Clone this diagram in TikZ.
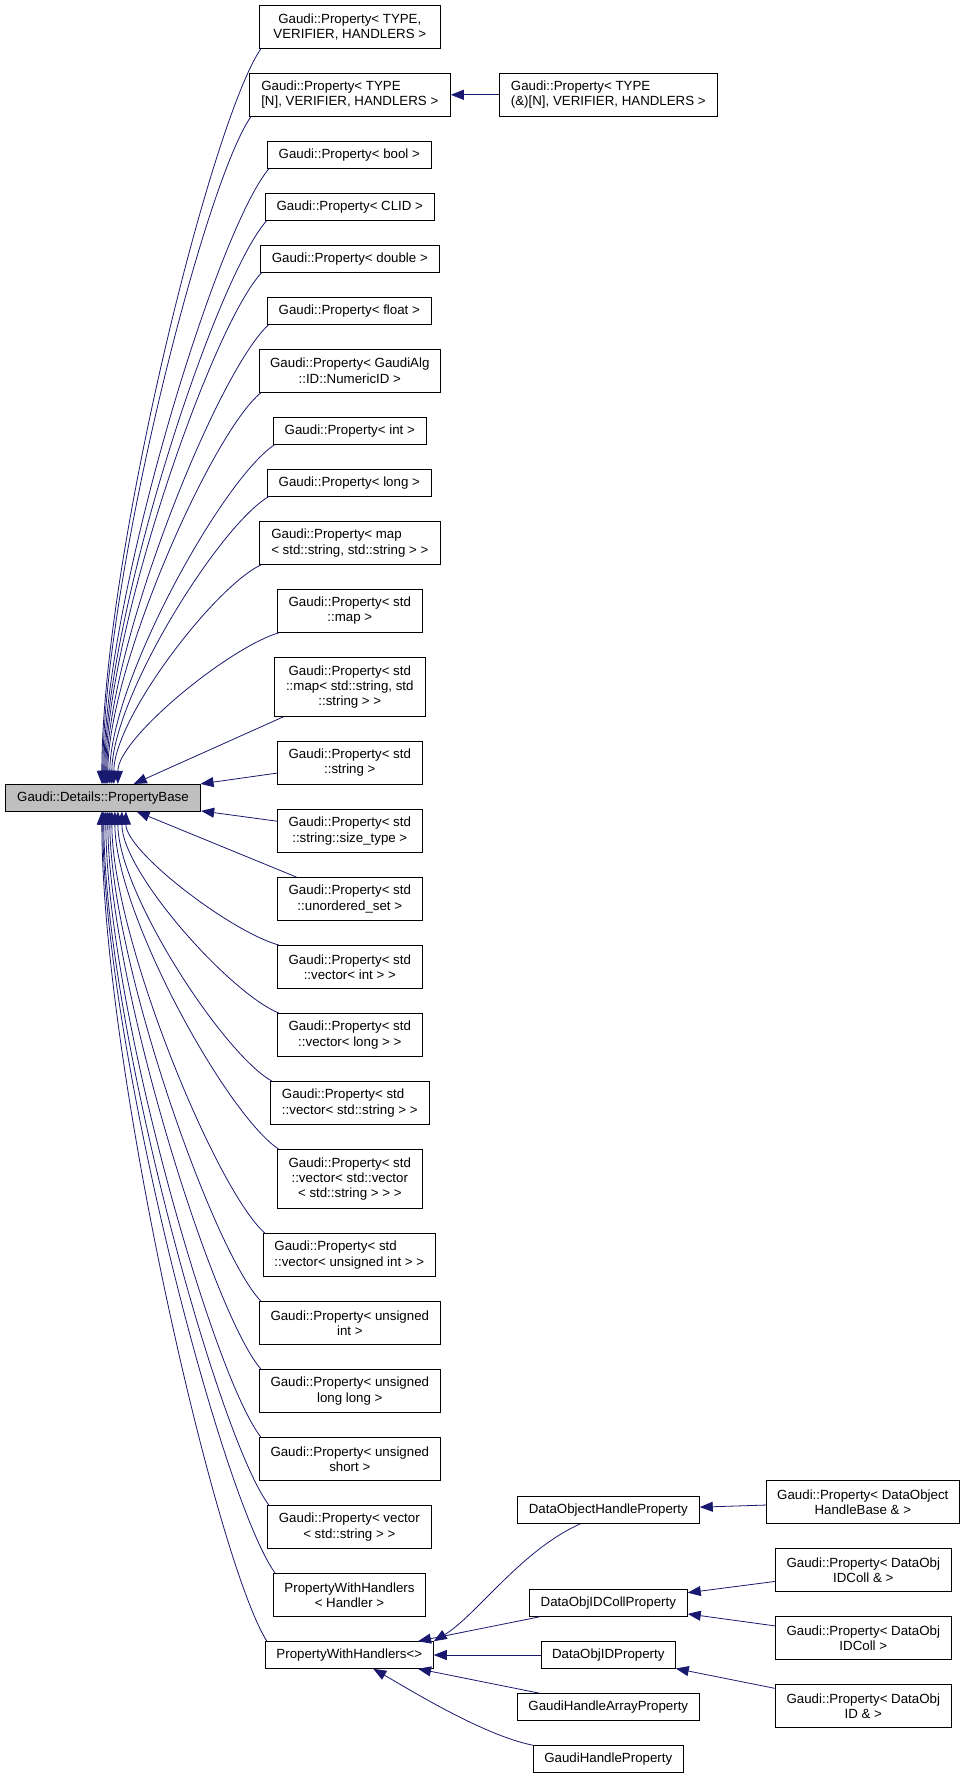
\documentclass[tikz,border=0pt]{standalone}
\usepackage{fontspec}
\setmainfont{Liberation Sans}
\usetikzlibrary{calc}
\usetikzlibrary{arrows.meta}
\definecolor{edgeblue}{HTML}{191970}
\definecolor{basegray}{HTML}{BFBFBF}
\tikzset{
cls/.style={draw, fill=white, line width=0.9pt, inner sep=0pt, minimum height=26.7pt,
	align=center, font=\fontsize{13.3}{15.3}\selectfont},
cls2/.style={cls, minimum height=43pt},
cls3/.style={cls, minimum height=58.6pt},
inh/.style={draw=edgeblue, line width=0.8pt, -{Triangle[length=13pt,width=10pt]}},
}
\begin{document}
\begin{tikzpicture}[x=1pt, y=-1pt]
\useasboundingbox[fill=white] (0,0) rectangle (965,1777);
%Place the nodes
\node[cls, fill=basegray, minimum width=195.4pt] (base) at (103,797.7) {Gaudi::Details::PropertyBase};

\node[cls2, minimum width=181pt] (b1) at (349.8,26.8) {Gaudi::Property< TYPE,\\ VERIFIER, HANDLERS >};
\node[cls2, minimum width=201pt, align=left] (b2) at (349.8,94.8) {Gaudi::Property< TYPE\\{}[N], VERIFIER, HANDLERS >};
\node[cls2, minimum width=218pt, align=left] (b2r) at (608.3,94.8) {Gaudi::Property< TYPE\\(\&)[N], VERIFIER, HANDLERS >};
\node[cls, minimum width=164pt] (bool) at (349.3,155) {Gaudi::Property< bool >};
\node[cls, minimum width=169pt] (clid) at (349.8,206.7) {Gaudi::Property< CLID >};
\node[cls, minimum width=179pt] (dbl) at (349.8,258.7) {Gaudi::Property< double >};
\node[cls, minimum width=164pt] (flt) at (349.3,310.7) {Gaudi::Property< float >};
\node[cls2, minimum width=181pt] (alg) at (349.8,370.8) {Gaudi::Property< GaudiAlg\\::ID::NumericID >};
\node[cls, minimum width=153pt] (int) at (349.8,430.7) {Gaudi::Property< int >};
\node[cls, minimum width=164pt] (long) at (349.3,482.7) {Gaudi::Property< long >};
\node[cls2, minimum width=181pt, align=left] (map) at (349.8,543) {Gaudi::Property< map\\< std::string, std::string > >};
\node[cls2, minimum width=145pt] (smap) at (349.8,610.8) {Gaudi::Property< std\\::map >};
\node[cls3, minimum width=151pt] (smapss) at (349.8,687) {Gaudi::Property< std\\::map< std::string, std\\::string > >};
\node[cls2, minimum width=145pt] (str) at (349.8,762.8) {Gaudi::Property< std\\::string >};
\node[cls2, minimum width=145pt] (stype) at (349.8,831) {Gaudi::Property< std\\::string::size\_type >};
\node[cls2, minimum width=145pt] (uset) at (349.8,899) {Gaudi::Property< std\\::unordered\_set >};
\node[cls2, minimum width=145pt] (vint) at (349.8,967) {Gaudi::Property< std\\::vector< int > >};
\node[cls2, minimum width=145pt] (vlong) at (349.8,1035) {Gaudi::Property< std\\::vector< long > >};
\node[cls2, minimum width=159pt, align=left] (vstr) at (349.8,1103) {Gaudi::Property< std\\::vector< std::string > >};
\node[cls3, minimum width=145pt] (vvec) at (349.8,1179) {Gaudi::Property< std\\::vector< std::vector\\< std::string > > >};
\node[cls2, minimum width=172pt, align=left] (vuint) at (349.3,1255) {Gaudi::Property< std\\::vector< unsigned int > >};
\node[cls2, minimum width=181pt] (uint) at (349.8,1323) {Gaudi::Property< unsigned\\int >};
\node[cls2, minimum width=181pt] (ull) at (349.8,1391) {Gaudi::Property< unsigned\\long long >};
\node[cls2, minimum width=181pt] (ushort) at (349.8,1459) {Gaudi::Property< unsigned\\short >};
\node[cls2, minimum width=164pt] (vec) at (349.3,1527) {Gaudi::Property< vector\\< std::string > >};
\node[cls2, minimum width=152pt] (pwhh) at (349.5,1595) {PropertyWithHandlers\\< Handler >};
\node[cls, minimum width=168pt] (pwh) at (349.3,1655) {PropertyWithHandlers<>};

\node[cls, minimum width=182pt] (dohp) at (608.3,1510) {DataObjectHandleProperty};
\node[cls, minimum width=158pt] (doidcp) at (608.3,1603) {DataObjIDCollProperty};
\node[cls, minimum width=134pt] (doidp) at (608.3,1655) {DataObjIDProperty};
\node[cls, minimum width=182pt] (ghap) at (608.3,1707) {GaudiHandleArrayProperty};
\node[cls, minimum width=150pt] (ghp) at (608.3,1759) {GaudiHandleProperty};

\node[cls2, minimum width=193pt] (hb) at (862.8,1502) {Gaudi::Property< DataObject\\HandleBase \& >};
\node[cls2, minimum width=176pt] (idcr) at (863.3,1570) {Gaudi::Property< DataObj\\IDColl \& >};
\node[cls2, minimum width=176pt] (idcv) at (863.3,1638) {Gaudi::Property< DataObj\\IDColl >};
\node[cls2, minimum width=176pt] (idr) at (863.3,1706) {Gaudi::Property< DataObj\\ID \& >};

%Edges above the base
\foreach \n/\tx in {b1/97, b2/98, bool/99, clid/100, dbl/101, flt/102, alg/103, int/105, long/107, map/109, smap/113} {
	\coordinate (s) at ([xshift=2pt]\n.south west);
	\coordinate (t) at ([xshift=\tx pt]base.north west);
	\draw[inh] (s) .. controls ($(s)!0.35!(t|-s)!0.1!(s|-t)$) and ($(t)!0.3!(t|-s)$) .. (t);
}
%Edges below the base
\foreach \n/\tx in {vint/121, vlong/117, vstr/113, vvec/110, vuint/107, uint/105, ull/103, ushort/101, vec/99, pwhh/98, pwh/97} {
	\coordinate (s) at ([xshift=2pt]\n.north west);
	\coordinate (t) at ([xshift=\tx pt]base.south west);
	\draw[inh] (s) .. controls ($(s)!0.35!(t|-s)!0.1!(s|-t)$) and ($(t)!0.3!(t|-s)$) .. (t);
}
\draw[inh] (smapss) -- (base);
\draw[inh] (str) -- (base);
\draw[inh] (stype) -- (base);
\draw[inh] (uset) -- (base);

\draw[inh] (b2r) -- (b2);
\draw[inh] (hb) -- (dohp);
\draw[inh] (idcr) -- (doidcp);
\draw[inh] (idcv) -- (doidcp);
\draw[inh] (idr) -- (doidp);

\draw[inh] ([xshift=-28pt]dohp.south) .. controls +(-60,27) and +(43,-26) .. (pwh.north east);
\draw[inh] (doidcp) -- (pwh);
\draw[inh] (doidp) -- (pwh);
\draw[inh] (ghap) -- (pwh);
\draw[inh] (ghp.north west) .. controls +(-50,-10) and +(35,20) .. ([xshift=24pt]pwh.south);

\end{tikzpicture}
\end{document}
